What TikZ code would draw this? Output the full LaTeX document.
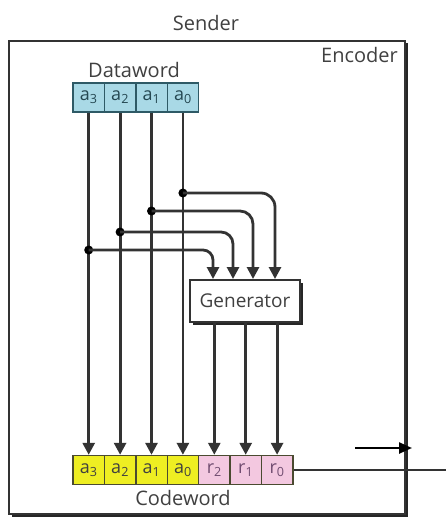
\documentclass[tikz,border=0pt]{standalone}
\usepackage{fontspec}
\setmainfont{Open Sans}
\usetikzlibrary{arrows.meta,shadows}

\definecolor{ink}{HTML}{333333}
\definecolor{txt}{HTML}{404040}
\definecolor{dataFill}{HTML}{A9D9E6}
\definecolor{dataLine}{HTML}{2E5A66}
\definecolor{codeA}{HTML}{EEEE22}
\definecolor{codeR}{HTML}{F3C8E0}
\definecolor{codeLine}{HTML}{4A4A30}

\tikzset{
  caption/.style={font=\fontsize{20}{22}\selectfont, text=txt, inner sep=0pt},
  cell/.style={draw, line width=1.4pt, minimum width=31.4pt, minimum height=29pt,
    inner sep=0pt, font=\fontsize{18}{19}\selectfont},
  datacell/.style={cell, fill=dataFill, draw=dataLine, text=dataLine!80!black},
  abit/.style={cell, fill=codeA, draw=codeLine, text=black!75},
  rbit/.style={cell, fill=codeR, draw=codeLine, text=violet!40!black!70},
  wire/.style={draw=ink, line width=2.8pt},
  arr/.style={wire, -{Triangle[length=12pt,width=12pt]}},
  junction/.style={circle, fill=black, inner sep=0pt, minimum size=9pt},
  frame/.style={draw=ink, line width=2pt, fill=white,
    drop shadow={shadow xshift=2.5pt, shadow yshift=-2.5pt, fill=black!85, opacity=1}},
}

\begin{document}
\begin{tikzpicture}[x=1pt, y=-1pt]
  \useasboundingbox (0,0) rectangle (446,521);

  % encoder frame and titles
  \node[frame, minimum width=396pt, minimum height=473pt, inner sep=0pt] (enc) at (207,277.5) {};
  \node[caption] (sender) at (206,23) {Sender};
  \node[caption, anchor=east] (enctitle) at (398,55) {Encoder};

  % dataword
  \node[caption] (dwlabel) at (134,70) {Dataword};
  \node[datacell] (d3) at (88.7,97.5) {a\textsubscript{3}};
  \node[datacell] (d2) at (120.1,97.5) {a\textsubscript{2}};
  \node[datacell] (d1) at (151.5,97.5) {a\textsubscript{1}};
  \node[datacell] (d0) at (182.9,97.5) {a\textsubscript{0}};

  % codeword
  \node[abit] (c3) at (88.7,470) {a\textsubscript{3}};
  \node[abit] (c2) at (120.1,470) {a\textsubscript{2}};
  \node[abit] (c1) at (151.5,470) {a\textsubscript{1}};
  \node[abit] (c0) at (182.9,470) {a\textsubscript{0}};
  \node[rbit] (r2) at (214.3,470) {r\textsubscript{2}};
  \node[rbit] (r1) at (245.7,470) {r\textsubscript{1}};
  \node[rbit] (r0) at (277.1,470) {r\textsubscript{0}};
  \node[caption] (cwlabel) at (183,498) {Codeword};

  % generator
  \node[frame, line width=1.8pt, minimum width=110pt, minimum height=42pt, inner sep=0pt,
        font=\fontsize{19}{21}\selectfont, text=txt] (gen) at (245,301) {Generator};
  \coordinate (g3) at (213,279);
  \coordinate (g2) at (233,279);
  \coordinate (g1) at (253,279);
  \coordinate (g0) at (275,279);

  % data bits straight down to the codeword
  \draw[arr] (d3.south) -- (c3.north);
  \draw[arr] (d2.south) -- (c2.north);
  \draw[arr] (d1.south) -- (c1.north);
  \draw[arr] (d0.south) -- (c0.north);

  % taps feeding the generator
  \node[junction] (j0) at (182.9,193) {};
  \node[junction] (j1) at (151.5,211) {};
  \node[junction] (j2) at (120.1,232) {};
  \node[junction] (j3) at (88.7,250) {};
  \draw[arr, rounded corners=14pt] (j0.center) -| (g0);
  \draw[arr, rounded corners=13pt] (j1.center) -| (g1);
  \draw[arr, rounded corners=12pt] (j2.center) -| (g2);
  \draw[arr, rounded corners=10pt] (j3.center) -| (g3);

  % redundant bits out of the generator
  \draw[arr] (gen.south -| r2) -- (r2.north);
  \draw[arr] (gen.south -| r1) -- (r1.north);
  \draw[arr] (gen.south -| r0) -- (r0.north);

  % codeword leaves the sender
  \coordinate (out) at (446,470);
  \draw[wire, line width=2.2pt] (r0.east) -- (out);
  \coordinate (p1) at (355,448);
  \coordinate (p2) at (412,448);
  \draw[draw=black, line width=2.4pt, -{Triangle[length=13pt,width=11pt]}] (p1) -- (p2);
\end{tikzpicture}
\end{document}
